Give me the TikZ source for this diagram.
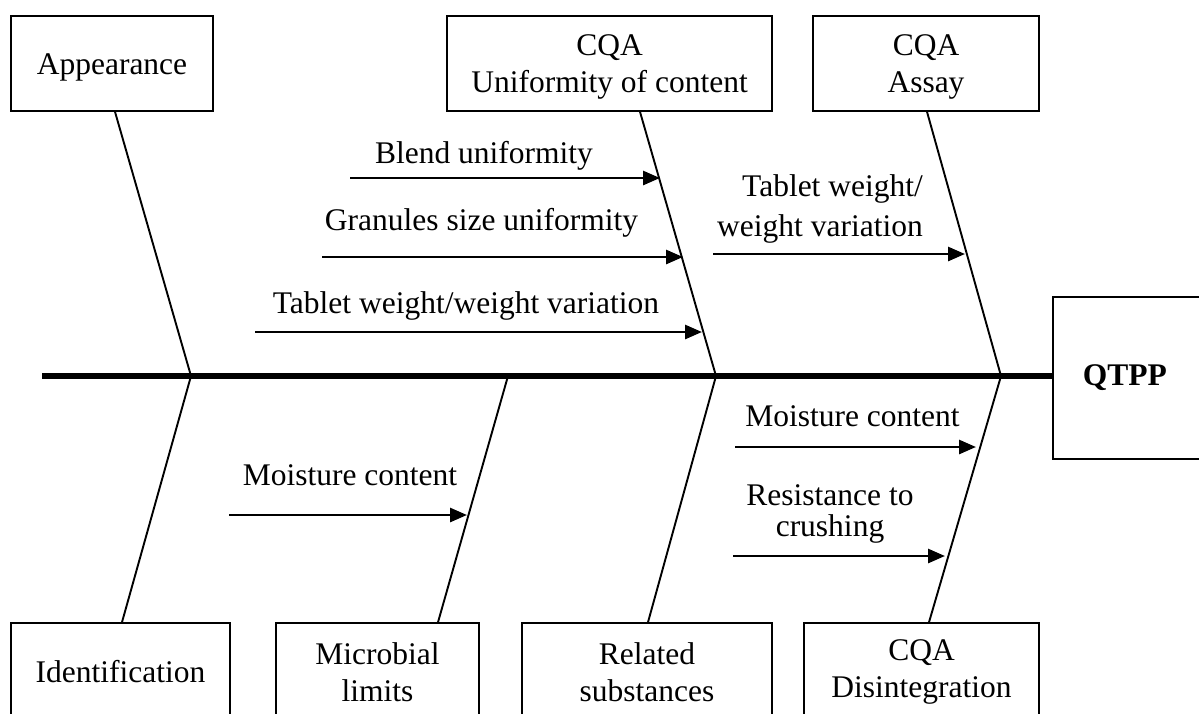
\documentclass[tikz,border=0pt]{standalone}
\usepackage{fontspec}
\setmainfont{Liberation Serif}
\usetikzlibrary{arrows.meta}
\tikzset{
  box/.style={draw, line width=1.6pt, inner sep=0pt, align=center},
  rib/.style={line width=1.9pt},
  spine/.style={line width=6pt},
  cause/.style={line width=2.8pt, -{Triangle[length=17pt,width=14pt]}},
  lbl/.style={inner sep=0pt},
}
\newcommand{\tallA}{\rule{0pt}{27pt}}
\begin{document}
\begin{tikzpicture}[x=1pt, y=-1pt, font=\fontsize{31.5}{37}\selectfont]
\useasboundingbox (0,0) rectangle (1199,713);
\clip (0,0) rectangle (1199,713);

% top boxes
\node[box, minimum width=202, minimum height=95] (app) at (112,63.5) {\rule{0pt}{28pt}Appearance};
\node[box, minimum width=325, minimum height=95] (uni) at (609.5,63.5) {\tallA CQA\\Uniformity of content};
\node[box, minimum width=226, minimum height=95] (assay) at (926,63.5) {\tallA CQA\\Assay};

% bottom boxes
\node[box, minimum width=219, minimum height=98] (ident) at (120.5,672) {Identification};
\node[box, minimum width=203, minimum height=98] (micro) at (377.5,672) {Microbial\\limits};
\node[box, minimum width=250, minimum height=98] (relat) at (647,672) {Related\\substances};
\node[box, minimum width=235, minimum height=98] (disint) at (921.5,672) {CQA\\Disintegration};

% effect box
\node[box, anchor=west, minimum height=162, text width=110pt, align=left, inner xsep=30pt] (qtpp) at (1052,378) {\bfseries QTPP};

% spine
\coordinate (spineL) at (42,376);
\coordinate (j1) at (191,376);
\coordinate (j2) at (508,376);
\coordinate (j3) at (716,376);
\coordinate (j4) at (1001,376);
\draw[spine] (spineL) -- (spineL -| qtpp.west);

% ribs
\draw[rib] ([xshift=3pt]app.south) -- (j1);
\draw[rib] ([xshift=30.5pt]uni.south) -- (j3);
\draw[rib] ([xshift=1pt]assay.south) -- (j4);
\draw[rib] (j1) -- ([xshift=1.5pt]ident.north);
\draw[rib] (j2) -- ([xshift=60.5pt]micro.north);
\draw[rib] (j3) -- ([xshift=1pt]relat.north);
\draw[rib] (j4) -- ([xshift=7.5pt]disint.north);

% cause arrows
\coordinate (a1s) at (350,178); \coordinate (a1e) at (660,178);
\coordinate (a2s) at (322,257); \coordinate (a2e) at (683,257);
\coordinate (a3s) at (255,332); \coordinate (a3e) at (702,332);
\coordinate (a4s) at (713,254); \coordinate (a4e) at (965,254);
\coordinate (a5s) at (229,515); \coordinate (a5e) at (467,515);
\coordinate (a6s) at (735,447); \coordinate (a6e) at (976,447);
\coordinate (a7s) at (733,556); \coordinate (a7e) at (945,556);
\draw[cause] (a1s) -- (a1e);
\draw[cause] (a2s) -- (a2e);
\draw[cause] (a3s) -- (a3e);
\draw[cause] (a4s) -- (a4e);
\draw[cause] (a5s) -- (a5e);
\draw[cause] (a6s) -- (a6e);
\draw[cause] (a7s) -- (a7e);

% labels
\node[lbl, anchor=base] (t1) at (484,163) {Blend uniformity};
\node[lbl, anchor=base] (t2) at (481.5,230) {Granules size uniformity};
\node[lbl, anchor=base] (t3) at (466,313) {Tablet weight/weight variation};
\node[lbl, anchor=north east, align=right, font=\fontsize{31.5}{40}\selectfont] (t4) at (923,174) {Tablet weight/\\weight variation};
\node[lbl, anchor=base] (t5) at (350,485) {Moisture content};
\node[lbl, anchor=base] (t6) at (852.5,426) {Moisture content};
\node[lbl, anchor=north, align=center, font=\fontsize{31.5}{31.5}\selectfont] (t7) at (830,484) {Resistance to\\crushing};
\end{tikzpicture}
\end{document}
